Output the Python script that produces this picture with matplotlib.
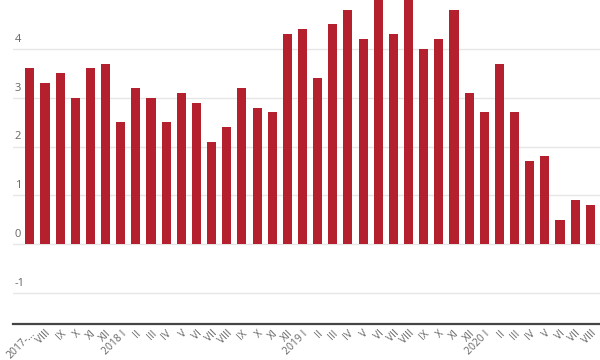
import matplotlib
matplotlib.use('Agg')
import matplotlib.pyplot as plt
import numpy as np

# month labels, 2017 VII .. 2020 VIII
labels = ['2017-...', 'VIII', 'IX', 'X', 'XI', 'XII',
          '2018 I', 'II', 'III', 'IV', 'V', 'VI', 'VII', 'VIII', 'IX', 'X', 'XI', 'XII',
          '2019 I', 'II', 'III', 'IV', 'V', 'VI', 'VII', 'VIII', 'IX', 'X', 'XI', 'XII',
          '2020 I', 'II', 'III', 'IV', 'V', 'VI', 'VII', 'VIII']
values = [3.6, 3.3, 3.5, 3.0, 3.6, 3.7,
          2.5, 3.2, 3.0, 2.5, 3.1, 2.9, 2.1, 2.4, 3.2, 2.8, 2.7, 4.3,
          4.4, 3.4, 4.5, 4.8, 4.2, 5.1, 4.3, 5.1, 4.0, 4.2, 4.8, 3.1,
          2.7, 3.7, 2.7, 1.7, 1.8, 0.5, 0.9, 0.8]
yticks = [-1, 0, 1, 2, 3, 4]

plt.rcParams['font.family'] = ['Open Sans', 'DejaVu Sans']

fig = plt.figure(figsize=(6, 3.6), dpi=100)
ax = fig.add_axes([0.022, 0.1, 0.978, 0.9])

x = np.arange(len(values))
ax.bar(x, values, width=0.6, color='#B5202E', zorder=3)

ax.set_xlim(-1.1, 37.64)
ax.set_ylim(-1.63, 5.0)

ax.set_yticks(yticks)
ax.set_yticklabels([str(t) for t in yticks])
ax.grid(axis='y', color='#e6e6e6', linewidth=1, zorder=0)
ax.tick_params(axis='y', length=0, pad=-1, labelsize=8, labelcolor='#666666')
for lab in ax.get_yticklabels():
    lab.set_horizontalalignment('left')
    lab.set_verticalalignment('bottom')
ax.yaxis.set_tick_params(labelleft=True)
# move y labels inside, above gridlines
for lab in ax.get_yticklabels():
    lab.set_x(0.0)
import matplotlib.transforms as mtransforms
offset = mtransforms.ScaledTranslation(0, 3 / 72, fig.dpi_scale_trans)
for lab in ax.get_yticklabels():
    lab.set_transform(lab.get_transform() + offset)

ax.set_xticks(x)
ax.set_xticklabels(labels, rotation=45, ha='right', rotation_mode='anchor')
ax.tick_params(axis='x', length=0, pad=3, labelsize=7.5, labelcolor='#666666')

for s in ['top', 'right', 'left']:
    ax.spines[s].set_visible(False)
ax.spines['bottom'].set_color('#444444')
ax.spines['bottom'].set_linewidth(1.6)

fig.savefig('out.png', dpi=100)
